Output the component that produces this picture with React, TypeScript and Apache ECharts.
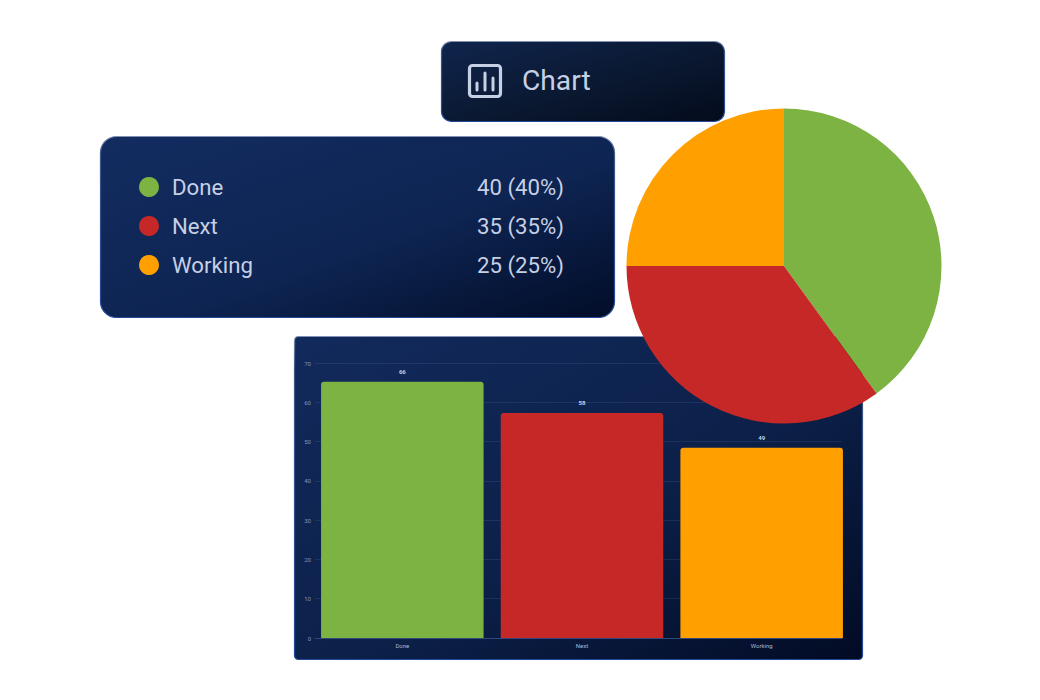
import React, { useEffect, useRef } from "react";
import * as echarts from "echarts";

const categories = ["Done", "Next", "Working"];
const colors = ["#7cb342", "#c62828", "#ffa000"];
const pieValues = [40, 35, 25];
const legendValues = ["40 (40%)", "35 (35%)", "25 (25%)"];
const barHeights = [65.2, 57.3, 48.4];
const barLabels = ["66", "58", "49"];
const titleText = "Chart";
const legendRowY = [187, 226, 265];
const iconBars = [
  [477, 83],
  [485, 73],
  [493, 78],
];

const font = "Roboto, sans-serif";
const textColor = "#c6d0e4";

const panelFill = (a: string, m: string, b: string) =>
  new echarts.graphic.LinearGradient(0, 0, 1, 1, [
    { offset: 0, color: a },
    { offset: 0.55, color: m },
    { offset: 1, color: b },
  ]);
const panelStroke = () =>
  new echarts.graphic.LinearGradient(0, 0, 0, 1, [
    { offset: 0, color: "#8392b4" },
    { offset: 0.1, color: "#3f5888" },
    { offset: 1, color: "#25499a" },
  ]);

const panel = (x: number, y: number, w: number, h: number, r: number, a: string, m: string, b: string) => ({
  type: "rect",
  z: 0,
  shape: { x: x + 0.5, y: y + 0.5, width: w, height: h, r },
  style: { fill: panelFill(a, m, b), stroke: panelStroke(), lineWidth: 1.2 },
});

export default function App() {
  const ref = useRef<HTMLDivElement>(null);
  useEffect(() => {
    document.body.style.margin = "0";
    const chart = echarts.init(ref.current!, undefined, { renderer: "svg" });
    const graphics: any[] = [
      panel(441, 41, 283, 80, 10, "#10254e", "#0a1830", "#040b1c"),
      panel(100, 136, 514, 181, 16, "#132c60", "#0e2553", "#020d28"),
      panel(294, 336, 568, 323, 4, "#122a5c", "#0c2049", "#020b24"),
      {
        type: "rect",
        z: 1,
        shape: { x: 469.5, y: 65.5, width: 31, height: 31, r: 3 },
        style: { fill: "none", stroke: textColor, lineWidth: 3.2 },
      },
      ...iconBars.map(([x, y]) => ({
        type: "line",
        z: 1,
        shape: { x1: x, y1: y, x2: x, y2: 90 },
        style: { stroke: textColor, lineWidth: 3, lineCap: "round" },
      })),
      {
        type: "text",
        z: 1,
        x: 522,
        y: 80,
        style: { text: titleText, font: `400 28.2px ${font}`, fill: textColor, verticalAlign: "middle" },
      },
      ...categories.flatMap((name, i) => [
        {
          type: "circle",
          z: 1,
          shape: { cx: 149, cy: legendRowY[i], r: 10 },
          style: { fill: colors[i] },
        },
        {
          type: "text",
          z: 1,
          x: 172,
          y: legendRowY[i],
          style: { text: name, font: `400 22.2px ${font}`, fill: textColor, verticalAlign: "middle" },
        },
        {
          type: "text",
          z: 1,
          x: 564,
          y: legendRowY[i],
          style: {
            text: legendValues[i],
            font: `400 22.2px ${font}`,
            fill: textColor,
            align: "right",
            verticalAlign: "middle",
          },
        },
      ]),
    ];
    chart.setOption({
      animation: false,
      backgroundColor: "#ffffff",
      textStyle: { fontFamily: font },
      graphic: graphics,
      grid: [
        { left: 315, right: 198, top: 363, bottom: 62 },
        { left: 312.5, right: 188.5, top: 363, bottom: 62 },
      ],
      xAxis: [
        {
          gridIndex: 0,
          type: "category",
          data: categories,
          axisLabel: { show: false },
          axisTick: { show: false },
          axisLine: { show: true, lineStyle: { color: "#33487a", width: 1 } },
        },
        {
          gridIndex: 1,
          type: "category",
          data: categories,
          axisLabel: { color: "#a9b8d4", fontSize: 6, margin: 4, fontFamily: font },
          axisTick: { show: false },
          axisLine: { show: false },
        },
      ],
      yAxis: [
        {
          gridIndex: 0,
          type: "value",
          min: 0,
          max: 70,
          interval: 10,
          axisLabel: { color: "#8296bd", fontSize: 6, margin: 4, fontFamily: font },
          axisTick: { show: false },
          axisLine: { show: false },
          splitLine: { lineStyle: { color: "rgba(120,145,200,0.15)", width: 1 } },
        },
        {
          gridIndex: 1,
          type: "value",
          min: 0,
          max: 70,
          interval: 10,
          axisLabel: { show: false },
          axisTick: { show: false },
          axisLine: { show: false },
          splitLine: { show: false },
        },
      ],
      series: [
        {
          type: "bar",
          z: 3,
          xAxisIndex: 1,
          yAxisIndex: 1,
          barWidth: 162.5,
          data: barHeights.map((value, i) => ({
            value,
            itemStyle: { color: colors[i], borderRadius: [3, 3, 0, 0] },
            label: { formatter: barLabels[i] },
          })),
          label: {
            show: true,
            position: "top",
            distance: 7,
            color: "#c4d0e8",
            fontSize: 6,
            fontWeight: "bold",
            fontFamily: font,
          },
        },
        {
          type: "pie",
          z: 5,
          center: [784, 266],
          radius: [0, 157.5],
          startAngle: 90,
          clockwise: true,
          label: { show: false },
          labelLine: { show: false },
          itemStyle: { borderWidth: 0 },
          data: categories.map((name, i) => ({
            name,
            value: pieValues[i],
            itemStyle: { color: colors[i] },
          })),
        },
      ],
    });
    return () => chart.dispose();
  }, []);
  return <div ref={ref} style={{ width: 1040, height: 700 }} />;
}
